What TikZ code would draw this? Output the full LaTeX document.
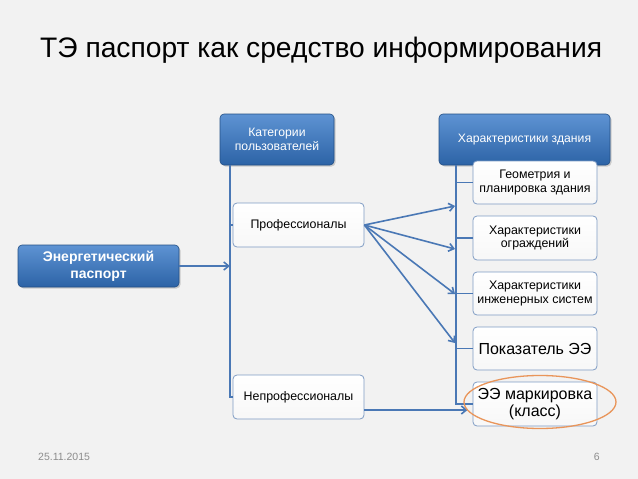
\documentclass[tikz,border=0pt]{standalone}
\usepackage{fontspec}
\setmainfont{Liberation Sans}
\usetikzlibrary{arrows.meta,shapes.geometric,shadows}

\definecolor{slidebg}{HTML}{F2F2F2}
\definecolor{linkblue}{HTML}{4A78B5}
\definecolor{boxtop}{HTML}{5E93D3}
\definecolor{boxbot}{HTML}{2C63A6}
\definecolor{subedge}{HTML}{7F9CC4}
\definecolor{hlorange}{HTML}{E9955A}

\begin{document}
\begin{tikzpicture}[
  x=1pt, y=-1pt,
  bluebox/.style={rectangle, rounded corners=4pt, draw=boxbot!80!black, line width=0.6pt,
    top color=boxtop, bottom color=boxbot, text=white, align=center,
    drop shadow={opacity=0.35, shadow xshift=1.5pt, shadow yshift=-1.5pt}},
  subbox/.style={rectangle, rounded corners=4pt, draw=subedge, line width=0.8pt,
    top color=white, bottom color=slidebg!60!white, align=center, text=black,
    font=\fontsize{12.4}{13.5}\selectfont},
  link/.style={draw=linkblue, line width=1.6pt},
  arr/.style={link, -{Straight Barb[length=5pt,width=8pt]}}
]
\fill[slidebg] (0,0) rectangle (638,479);

\node[anchor=base west, inner sep=0, font=\fontsize{28.2}{32}\selectfont] (title) at (40,57)
  {ТЭ паспорт как средство информирования};

% left branch
\node[bluebox, minimum width=161, minimum height=42, font=\bfseries\fontsize{14}{16.5}\selectfont] (passport)
  at (98.5,266) {Энергетический\\паспорт};
\node[bluebox, minimum width=114, minimum height=51, font=\fontsize{12.2}{13.5}\selectfont] (users)
  at (277,139.5) {Категории\\пользователей};
\node[subbox, minimum width=131, minimum height=44] (prof) at (298.5,225) {Профессионалы};
\node[subbox, minimum width=131, minimum height=44] (nonprof) at (298.5,397) {Непрофессионалы};

% right branch
\node[bluebox, minimum width=171, minimum height=51, font=\fontsize{12.2}{13.5}\selectfont] (building)
  at (524.5,139.5) {Характеристики здания};
\node[subbox, minimum width=124, minimum height=43] (geom) at (535,182.5) {Геометрия и\\планировка здания};
\node[subbox, minimum width=124, minimum height=44] (walls) at (535,238) {Характеристики\\ограждений};
\node[subbox, minimum width=124, minimum height=43] (systems) at (535,293.5) {Характеристики\\инженерных систем};
\node[subbox, minimum width=124, minimum height=43, font=\fontsize{16}{18}\selectfont] (eeindex)
  at (535,348.5) {Показатель ЭЭ};
\node[subbox, minimum width=124, minimum height=44, font=\fontsize{16}{17}\selectfont] (eelabel)
  at (535,404) {ЭЭ маркировка\\(класс)};

% spines
\coordinate (lspine) at (230,165);
\coordinate (rspine) at (456,165);
\draw[link] (lspine) |- (prof.west);
\draw[link] (lspine) |- (nonprof.west);
\foreach \n in {geom,walls,systems,eeindex,eelabel}
  \draw[link] (rspine) |- (\n.west);

% arrows
\draw[arr] (passport.east) -- (passport.east -| lspine);
\foreach \y [count=\i] in {206,249,294,343} {
  \coordinate (in\i) at (455,\y);
  \draw[arr] (prof.east) -- (in\i);
}
\coordinate (nonprofout) at ([yshift=-13]nonprof.east);
\draw[arr] (nonprofout) -- ([xshift=-5]nonprofout -| eelabel.west);

% highlight
\node[ellipse, draw=hlorange, line width=1.3pt, minimum width=152, minimum height=53] (hl)
  at (540,402) {};

% footer
\node[anchor=base west, inner sep=0, text=black!45, font=\fontsize{10.5}{12}\selectfont] (date)
  at (38,460) {25.11.2015};
\node[anchor=base east, inner sep=0, text=black!45, font=\fontsize{10.5}{12}\selectfont] (page)
  at (600,460) {6};
\end{tikzpicture}
\end{document}
